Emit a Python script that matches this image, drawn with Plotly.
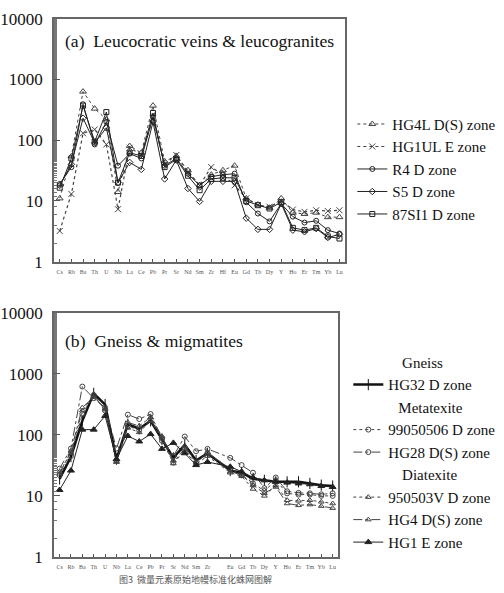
import plotly.graph_objects as go

# ---------------- data ----------------
elements_a = ["Cs", "Rb", "Ba", "Th", "U", "Nb", "La", "Ce", "Pb", "Pr", "Sr", "Nd", "Sm",
              "Zr", "Hf", "Eu", "Gd", "Tb", "Dy", "Y", "Ho", "Er", "Tm", "Yb", "Lu"]
elements_b = ["Cs", "Rb", "Ba", "Th", "U", "Nb", "La", "Ce", "Pb", "Pr", "Sr", "Nd", "Sm",
              "Zr", "", "Eu", "Gd", "Tb", "Dy", "Y", "Ho", "Er", "Tm", "Yb", "Lu"]

# (a) Leucocratic veins & leucogranites
hg4l = [11, 54, 630, 330, 220, 14, 80, 62, 370, 45, 55, 32, 18, 27, 32, 38, 11, 8.7, 7.7, 11, 6.4, 6.1, 6.4, 5.4, 5.4]
hg1ul = [3.2, 13, 130, 150, 85, 7.3, 75, 58, 230, 40, 57, 30, 18, 36, 27, 18, 11, 8.5, 8, 10, 7.2, 6.6, 7, 6.8, 7]
r4 = [19, 36, 390, 85, 200, 38, 60, 50, 240, 38, 50, 28, 18, 25, 27, 28, 9.5, 6.2, 4.6, 9, 5.5, 4.4, 4.7, 3.3, 2.9]
s5 = [18, 40, 230, 90, 160, 20, 43, 33, 200, 23, 47, 16, 9.8, 21, 21, 21, 5.2, 3.4, 3.4, 9, 3.3, 3.1, 3.5, 2.5, 2.8]
si87 = [16.5, 50, 370, 95, 290, 20, 62, 55, 280, 36, 48, 26, 15, 23, 24, 24, 10, 8.5, 7.5, 9.5, 3.6, 3.3, 3.6, 2.6, 2.4]

# (b) Gneiss & migmatites (Hf not analysed)
hg32 = [19, 44, 170, 480, 315, 40, 150, 126, 170, 85, 42, 69, 38, 50, None, 26, 24, 19, 18, 17, 17, 17, 16, 15, 14.5]
m99050506 = [22, 45, 220, 450, 250, 38, 140, 120, 180, 80, 35, 60, 35, 50, None, 28, 22, 16, 12, 18, 11, 10.5, 10.5, 10, 10]
hg28 = [28, 60, 620, 400, 280, 60, 215, 182, 220, 88, 45, 94, 54, 59, None, 42, 32, 24, 13.4, 20, 11.9, 11.2, 11, 10.6, 11]
d950503v = [25, 50, 250, 450, 260, 36, 130, 110, 170, 90, 34, 55, 33, 45, None, 24, 21, 13, 10, 15, 8.5, 8.3, 8.5, 8, 7.5]
hg4 = [23, 55, 280, 420, 270, 36, 160, 140, 195, 95, 38, 65, 36, 52, None, 25, 22, 15, 11, 14, 7.5, 7, 7.2, 6.8, 6.3]
hg1 = [12.5, 26, 122, 122, 205, 40, 96, 78, 103, 59, 74, 50, 32, 36, None, 30, 25, 20, 18, 17, 16.5, 16, 15.5, 14.5, 14]

y_tickvals = [1, 10, 100, 1000, 10000]
y_ticktext = ["1", "10", "100", "1000", "10000"]

W, H = 504, 593
FONT = "Liberation Serif, DejaVu Serif, serif"
DARK = "#222222"
MID = "#444444"

xa = list(range(len(elements_a)))
xb = list(range(len(elements_b)))

fig = go.Figure()

def add(x, y, name, symbol, dash, width, color, xaxis, yaxis, legend, size=6,
        group=None, gtitle=None, fill=None):
    kw = {}
    if group:
        kw["legendgroup"] = group
    if gtitle:
        kw["legendgrouptitle"] = dict(text=gtitle, font=dict(family=FONT, size=15, color="#111"))
    fig.add_trace(go.Scatter(
        x=x, y=y, name=name, mode="lines+markers", connectgaps=True,
        line=dict(color=color, width=width, dash=dash),
        marker=dict(symbol=symbol, size=size, color=fill if fill else color,
                    line=dict(color=color, width=1)),
        xaxis=xaxis, yaxis=yaxis, legend=legend, **kw))

# panel (a)
add(xa, hg4l, "HG4L D(S) zone", "triangle-up-open", "dot", 1, MID, "x", "y", "legend")
add(xa, hg1ul, "HG1UL E zone", "x-thin-open", "dot", 1.2, MID, "x", "y", "legend")
add(xa, r4, "R4 D zone", "circle-open", "solid", 1, DARK, "x", "y", "legend", size=5)
add(xa, s5, "S5 D zone", "diamond-open", "solid", 1, DARK, "x", "y", "legend", size=5)
add(xa, si87, "87SI1 D zone", "square-open", "solid", 1, DARK, "x", "y", "legend", size=5)

NB = "&nbsp;"
# panel (b)
add(xb, hg32, "HG32 D zone", "line-ns-open", "solid", 2.5, "#111111", "x2", "y2", "legend2", size=8,
    group="g", gtitle=NB * 13 + "Gneiss")
add(xb, m99050506, "99050506 D zone", "circle-open", "dot", 1, MID, "x2", "y2", "legend2", size=5,
    group="m", gtitle=NB * 12 + "Metatexite")
add(xb, hg28, "HG28 D(S) zone", "circle-open", "dashdot", 1, MID, "x2", "y2", "legend2", size=5, group="m")
add(xb, d950503v, "950503V D zone", "triangle-up-open", "dot", 1, MID, "x2", "y2", "legend2", size=5,
    group="d", gtitle=NB * 13 + "Diatexite")
add(xb, hg4, "HG4 D(S) zone", "triangle-up-open", "dashdot", 1, MID, "x2", "y2", "legend2", size=5, group="d")
add(xb, hg1, "HG1 E zone", "triangle-up", "solid", 1, DARK, "x2", "y2", "legend2", size=6, group="d")

def px_x(p):
    return p / W

def px_y(p):
    return 1 - p / H

yaxis_common = dict(
    type="log", range=[0, 4], tickvals=y_tickvals, ticktext=y_ticktext,
    ticks="inside", ticklen=6, tickcolor="#555", showline=True, linecolor="#666", linewidth=1.5,
    mirror=True, showgrid=False, zeroline=False, ticklabelstandoff=6,
    tickfont=dict(family=FONT, size=17, color="#111"),
    minor=dict(ticks="inside", ticklen=3, tickcolor="#777", showgrid=False),
)
xaxis_common = dict(
    range=[-0.5, 24.5], tickmode="array", ticks="inside", ticklen=3, tickcolor="#555",
    showline=True, linecolor="#666", linewidth=1.5, mirror=True, showgrid=False, zeroline=False,
    tickfont=dict(family=FONT, size=6, color="#555"), tickangle=0, ticklabelstandoff=3,
)

fig.update_layout(
    width=W, height=H, margin=dict(l=0, r=0, t=0, b=0),
    paper_bgcolor="white", plot_bgcolor="white",
    font=dict(family=FONT, color="#111"),
    xaxis=dict(domain=[px_x(53), px_x(345)], anchor="y", tickvals=xa, ticktext=elements_a, **xaxis_common),
    yaxis=dict(domain=[px_y(261), px_y(10)], anchor="x", **yaxis_common),
    xaxis2=dict(domain=[px_x(53), px_x(338)], anchor="y2", tickvals=xb, ticktext=elements_b, **xaxis_common),
    yaxis2=dict(domain=[px_y(566), px_y(314)], anchor="x2", **yaxis_common),
    legend=dict(x=px_x(352), y=px_y(102), xanchor="left", yanchor="top",
                font=dict(family=FONT, size=15, color="#111"), bgcolor="rgba(0,0,0,0)",
                tracegroupgap=0, itemwidth=30),
    legend2=dict(x=px_x(348), y=px_y(348), xanchor="left", yanchor="top",
                 font=dict(family=FONT, size=15, color="#111"), bgcolor="rgba(0,0,0,0)",
                 tracegroupgap=0, itemwidth=30, traceorder="grouped"),
    showlegend=True,
)

fig.add_annotation(x=px_x(62), y=px_y(33), xref="paper", yref="paper", xanchor="left", yanchor="middle",
                   text="(a)  Leucocratic veins &amp; leucogranites", showarrow=False,
                   font=dict(family=FONT, size=17.6, color="#111"))
fig.add_annotation(x=px_x(62), y=px_y(343), xref="paper", yref="paper", xanchor="left", yanchor="middle",
                   text="(b)  Gneiss &amp; migmatites", showarrow=False,
                   font=dict(family=FONT, size=17.6, color="#111"))
fig.add_annotation(x=px_x(116), y=px_y(581), xref="paper", yref="paper", xanchor="left", yanchor="top",
                   text="图3  微量元素原始地幔标准化蛛网图解", showarrow=False,
                   font=dict(family="Noto Sans CJK SC", size=9, color="#555"))

fig.write_html("out.html")
